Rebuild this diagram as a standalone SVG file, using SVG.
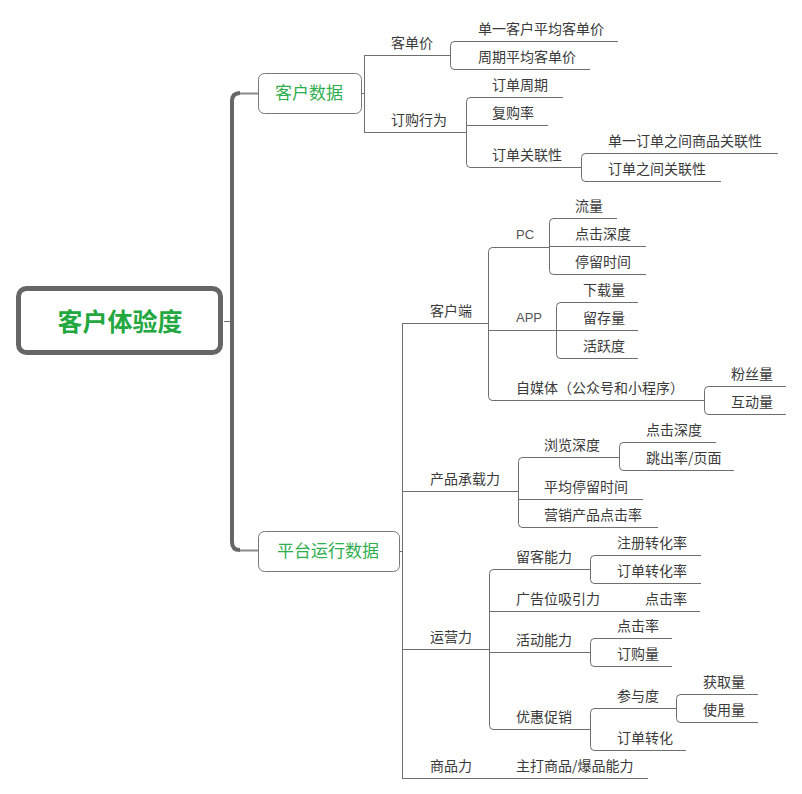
<svg xmlns="http://www.w3.org/2000/svg" width="802" height="794" viewBox="0 0 802 794">
<style>
.ln{stroke:#6e6e6e;stroke-width:1;fill:none}
.t{font-family:"Noto Sans CJK SC","Liberation Sans",sans-serif;font-size:14px;fill:#3a3a3a}
.lat{font-family:"Liberation Sans","Noto Sans CJK SC",sans-serif;font-size:13px;fill:#555}
.box{fill:#fff;stroke:#777;stroke-width:1}
.bt{font-family:"Noto Sans CJK SC",sans-serif;font-size:17px;fill:#2fae4e;text-anchor:middle}
</style>
<rect width="802" height="794" fill="#fff"/>
<g id="connectors">
<path d="M224,321.5H232" class="ln"/>
<path d="M240,93 Q232,93 232,101 V542 Q232,550 240,550" stroke="#666" stroke-width="4" fill="none"/>
<path d="M240,93.5H258M240,550.5H258" stroke="#8a8a8a" stroke-width="2" fill="none"/>
<path class="ln" d="M361,93.5H364.5M364.5,55.5V132.5"/>
<path class="ln" d="M399,551.5H402.5M402.5,323.5V778.5"/>
<path class="ln" d="M454.5,41.5Q450.5,41.5 450.5,45.5V65.5Q450.5,69.5 454.5,69.5"/>
<path class="ln" d="M470.5,97.5Q466.5,97.5 466.5,101.5V163.5Q466.5,167.5 470.5,167.5"/>
<path class="ln" d="M585.5,153.5Q581.5,153.5 581.5,157.5V177.5Q581.5,181.5 585.5,181.5"/>
<path class="ln" d="M492.5,247.5Q488.5,247.5 488.5,251.5V396.5Q488.5,400.5 492.5,400.5"/>
<path class="ln" d="M553.5,218.5Q549.5,218.5 549.5,222.5V270.5Q549.5,274.5 553.5,274.5"/>
<path class="ln" d="M560.5,302.5Q556.5,302.5 556.5,306.5V354.5Q556.5,358.5 560.5,358.5"/>
<path class="ln" d="M708.5,386.5Q704.5,386.5 704.5,390.5V410.5Q704.5,414.5 708.5,414.5"/>
<path class="ln" d="M522.5,457.5Q518.5,457.5 518.5,461.5V523.5Q518.5,527.5 522.5,527.5"/>
<path class="ln" d="M623.5,442.5Q619.5,442.5 619.5,446.5V466.5Q619.5,470.5 623.5,470.5"/>
<path class="ln" d="M493.5,569.5Q489.5,569.5 489.5,573.5V725.5Q489.5,729.5 493.5,729.5"/>
<path class="ln" d="M594.5,555.5Q590.5,555.5 590.5,559.5V579.5Q590.5,583.5 594.5,583.5"/>
<path class="ln" d="M594.5,638.5Q590.5,638.5 590.5,642.5V662.5Q590.5,666.5 594.5,666.5"/>
<path class="ln" d="M594.5,708.5Q590.5,708.5 590.5,712.5V746.5Q590.5,750.5 594.5,750.5"/>
<path class="ln" d="M680.5,694.5Q676.5,694.5 676.5,698.5V718.5Q676.5,722.5 680.5,722.5"/>
</g>
<g id="root">
<rect x="18.5" y="288.5" width="202" height="64" rx="8" fill="#fff" stroke="#666" stroke-width="5"/>
<text x="120" y="331" font-family="Noto Sans CJK SC,sans-serif" font-size="25" font-weight="bold" fill="#22a83f" text-anchor="middle">客户体验度</text>
</g>
<g id="n-kehushuju">
<rect x="258.5" y="73.5" width="103" height="40" rx="6" class="box"/>
<text x="309" y="99" class="bt">客户数据</text>
</g>
<g id="n-pingtai">
<rect x="258.5" y="531.5" width="141" height="40" rx="6" class="box"/>
<text x="328" y="557" class="bt">平台运行数据</text>
</g>
<g id="n1"><path class="ln" d="M364,55.5H450"/><text class="t" x="391" y="48">客单价</text></g>
<g id="n2"><path class="ln" d="M454,41.5H618"/><text class="t" x="478" y="34">单一客户平均客单价</text></g>
<g id="n3"><path class="ln" d="M454,69.5H590"/><text class="t" x="478" y="62">周期平均客单价</text></g>
<g id="n4"><path class="ln" d="M364,132.5H466"/><text class="t" x="391" y="125">订购行为</text></g>
<g id="n5"><path class="ln" d="M470,97.5H563"/><text class="t" x="492" y="90">订单周期</text></g>
<g id="n6"><path class="ln" d="M466,125.5H548"/><text class="t" x="492" y="118">复购率</text></g>
<g id="n7"><path class="ln" d="M470,167.5H581"/><text class="t" x="492" y="160">订单关联性</text></g>
<g id="n8"><path class="ln" d="M585,153.5H778"/><text class="t" x="608" y="146">单一订单之间商品关联性</text></g>
<g id="n9"><path class="ln" d="M585,181.5H721"/><text class="t" x="608" y="174">订单之间关联性</text></g>
<g id="n10"><path class="ln" d="M402,323.5H488"/><text class="t" x="430" y="316">客户端</text></g>
<g id="n11"><path class="ln" d="M492,247.5H549"/><text class="lat" x="516" y="239">PC</text></g>
<g id="n12"><path class="ln" d="M553,218.5H617"/><text class="t" x="575" y="211">流量</text></g>
<g id="n13"><path class="ln" d="M549,246.5H646"/><text class="t" x="575" y="239">点击深度</text></g>
<g id="n14"><path class="ln" d="M553,274.5H646"/><text class="t" x="575" y="267">停留时间</text></g>
<g id="n15"><path class="ln" d="M488,330.5H556"/><text class="lat" x="516" y="322">APP</text></g>
<g id="n16"><path class="ln" d="M560,302.5H638"/><text class="t" x="583" y="295">下载量</text></g>
<g id="n17"><path class="ln" d="M556,330.5H638"/><text class="t" x="583" y="323">留存量</text></g>
<g id="n18"><path class="ln" d="M560,358.5H638"/><text class="t" x="583" y="351">活跃度</text></g>
<g id="n19"><path class="ln" d="M492,400.5H704"/><text class="t" x="516" y="393">自媒体（公众号和小程序）</text></g>
<g id="n20"><path class="ln" d="M708,386.5H786"/><text class="t" x="731" y="379">粉丝量</text></g>
<g id="n21"><path class="ln" d="M708,414.5H786"/><text class="t" x="731" y="407">互动量</text></g>
<g id="n22"><path class="ln" d="M402,491.5H518"/><text class="t" x="430" y="484">产品承载力</text></g>
<g id="n23"><path class="ln" d="M522,457.5H619"/><text class="t" x="544" y="450">浏览深度</text></g>
<g id="n24"><path class="ln" d="M623,442.5H716"/><text class="t" x="646" y="435">点击深度</text></g>
<g id="n25"><path class="ln" d="M623,470.5H734"/><text class="t" x="646" y="463">跳出率/页面</text></g>
<g id="n26"><path class="ln" d="M518,499.5H643"/><text class="t" x="544" y="492">平均停留时间</text></g>
<g id="n27"><path class="ln" d="M522,527.5H658"/><text class="t" x="544" y="520">营销产品点击率</text></g>
<g id="n28"><path class="ln" d="M402,649.5H489"/><text class="t" x="430" y="642">运营力</text></g>
<g id="n29"><path class="ln" d="M493,569.5H590"/><text class="t" x="516" y="562">留客能力</text></g>
<g id="n30"><path class="ln" d="M594,555.5H701"/><text class="t" x="617" y="548">注册转化率</text></g>
<g id="n31"><path class="ln" d="M594,583.5H701"/><text class="t" x="617" y="576">订单转化率</text></g>
<g id="n32"><path class="ln" d="M489,611.5H619"/><text class="t" x="516" y="604">广告位吸引力</text></g>
<g id="n33"><path class="ln" d="M619,611.5H700"/><text class="t" x="645" y="604">点击率</text></g>
<g id="n34"><path class="ln" d="M489,652.5H590"/><text class="t" x="516" y="645">活动能力</text></g>
<g id="n35"><path class="ln" d="M594,638.5H672"/><text class="t" x="617" y="631">点击率</text></g>
<g id="n36"><path class="ln" d="M594,666.5H672"/><text class="t" x="617" y="659">订购量</text></g>
<g id="n37"><path class="ln" d="M493,729.5H590"/><text class="t" x="516" y="722">优惠促销</text></g>
<g id="n38"><path class="ln" d="M594,708.5H676"/><text class="t" x="617" y="701">参与度</text></g>
<g id="n39"><path class="ln" d="M680,694.5H758"/><text class="t" x="703" y="687">获取量</text></g>
<g id="n40"><path class="ln" d="M680,722.5H758"/><text class="t" x="703" y="715">使用量</text></g>
<g id="n41"><path class="ln" d="M594,750.5H686"/><text class="t" x="617" y="743">订单转化</text></g>
<g id="n42"><path class="ln" d="M402,778.5H489"/><text class="t" x="430" y="771">商品力</text></g>
<g id="n43"><path class="ln" d="M489,778.5H648"/><text class="t" x="516" y="771">主打商品/爆品能力</text></g>
</svg>
